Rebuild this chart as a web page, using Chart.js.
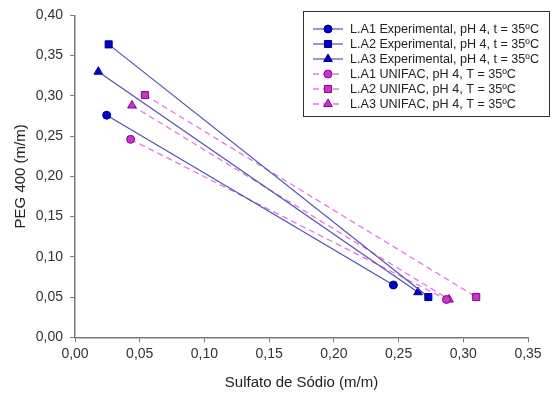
<!DOCTYPE html>
<html>
<head>
<meta charset="utf-8">
<script src="https://cdn.jsdelivr.net/npm/chart.js@4/dist/chart.umd.min.js"></script>
<style>
  body { margin: 0; background: #fff; }
</style>
</head>
<body>
<canvas id="myChart" width="552" height="396"></canvas>
<script>
'use strict';

// data

var seriesLabels = [
  'L.A1 Experimental, pH 4, t = 35ºC',
  'L.A2 Experimental, pH 4, t = 35ºC',
  'L.A3 Experimental, pH 4, t = 35ºC',
  'L.A1 UNIFAC, pH 4, T = 35ºC',
  'L.A2 UNIFAC, pH 4, T = 35ºC',
  'L.A3 UNIFAC, pH 4, T = 35ºC'
];

var la1ExpX = [0.0245, 0.246];
var la1ExpY = [0.276, 0.065];
var la2ExpX = [0.026, 0.273];
var la2ExpY = [0.364, 0.050];
var la3ExpX = [0.018, 0.265];
var la3ExpY = [0.330, 0.056];

var la1UniX = [0.043, 0.287];
var la1UniY = [0.246, 0.047];
var la2UniX = [0.054, 0.310];
var la2UniY = [0.301, 0.050];
var la3UniX = [0.044, 0.289];
var la3UniY = [0.288, 0.047];

var xTicks = [0, 0.05, 0.10, 0.15, 0.20, 0.25, 0.30, 0.35];
var yTicks = [0, 0.05, 0.10, 0.15, 0.20, 0.25, 0.30, 0.35, 0.40];

var fontName = '"Liberation Sans", Arial, sans-serif';
var axisGray = '#7a7a7a';

function toPoints(xs, ys) {
  var pts = [];
  for (var i = 0; i < xs.length; i++) {
    pts.push({ x: xs[i], y: ys[i] });
  }
  return pts;
}

function commaLabel(value) {
  return Number(value).toFixed(2).replace('.', ',');
}

function expSet(label, xs, ys, shape, radius) {
  return {
    label: label,
    data: toPoints(xs, ys),
    showLine: true,
    borderColor: '#5050b0',
    borderWidth: 1.2,
    pointStyle: shape,
    pointRadius: radius,
    pointBackgroundColor: '#0000cc',
    pointBorderColor: '#00008a',
    pointBorderWidth: 1,
    order: 1
  };
}

function unifacSet(label, xs, ys, shape, radius) {
  return {
    label: label,
    data: toPoints(xs, ys),
    showLine: true,
    borderColor: '#e07ae0',
    borderWidth: 1.3,
    borderDash: [6, 4],
    pointStyle: shape,
    pointRadius: radius,
    pointBackgroundColor: '#cc33cc',
    pointBorderColor: '#8a008a',
    pointBorderWidth: 1,
    order: 2
  };
}

// legend in a framed box, drawn by hand

var boxLegend = {
  id: 'boxLegend',
  afterDraw: function(chart) {
    var ctx = chart.ctx;
    var sets = chart.data.datasets;
    ctx.save();
    ctx.fillStyle = '#fff';
    ctx.fillRect(303.5, 11.5, 246, 105);
    ctx.strokeStyle = '#333';
    ctx.lineWidth = 1;
    ctx.strokeRect(303.5, 11.5, 246, 105);
    for (var i = 0; i < sets.length; i++) {
      var ds = sets[i];
      var y = 29 + i * 15;
      ctx.strokeStyle = ds.borderColor;
      ctx.lineWidth = ds.borderWidth;
      ctx.setLineDash(ds.borderDash || []);
      ctx.beginPath();
      ctx.moveTo(313, y);
      ctx.lineTo(343, y);
      ctx.stroke();
      ctx.setLineDash([]);
      ctx.fillStyle = ds.pointBackgroundColor;
      ctx.strokeStyle = ds.pointBorderColor;
      ctx.lineWidth = 1;
      Chart.helpers.drawPoint(ctx, { pointStyle: ds.pointStyle, radius: ds.pointRadius, borderWidth: 1 }, 328, y);
      ctx.fillStyle = '#222';
      ctx.font = '12.6px ' + fontName;
      ctx.textBaseline = 'middle';
      ctx.textAlign = 'left';
      ctx.fillText(ds.label, 350, y + 0.5);
    }
    ctx.restore();
  }
};

var ctx = document.getElementById('myChart').getContext('2d');

var chart = new Chart(ctx, {
  type: 'scatter',
  data: {
    datasets: [
      expSet(seriesLabels[0], la1ExpX, la1ExpY, 'circle', 4),
      expSet(seriesLabels[1], la2ExpX, la2ExpY, 'rect', 5),
      expSet(seriesLabels[2], la3ExpX, la3ExpY, 'triangle', 5),
      unifacSet(seriesLabels[3], la1UniX, la1UniY, 'circle', 4),
      unifacSet(seriesLabels[4], la2UniX, la2UniY, 'rect', 5),
      unifacSet(seriesLabels[5], la3UniX, la3UniY, 'triangle', 5)
    ]
  },
  options: {
    responsive: false,
    animation: false,
    layout: { padding: { top: 11, right: 24, left: 0, bottom: 0 } },
    plugins: {
      legend: { display: false },
      tooltip: { enabled: false }
    },
    scales: {
      x: {
        type: 'linear',
        min: 0,
        max: 0.35,
        afterBuildTicks: function(scale) {
          scale.ticks = xTicks.map(function(v) { return { value: v }; });
        },
        afterFit: function(scale) {
          scale.height = 58.7;
        },
        grid: { drawOnChartArea: false, color: axisGray, tickLength: 5 },
        border: { color: axisGray, width: 1.5 },
        ticks: {
          color: '#333',
          font: { family: fontName, size: 14 },
          padding: 3,
          maxRotation: 0,
          callback: commaLabel
        },
        title: {
          display: true,
          text: 'Sulfato de Sódio (m/m)',
          color: '#222',
          font: { family: fontName, size: 15 },
          padding: { top: 4, bottom: 4 }
        }
      },
      y: {
        type: 'linear',
        min: 0,
        max: 0.40,
        afterBuildTicks: function(scale) {
          scale.ticks = yTicks.map(function(v) { return { value: v }; });
        },
        afterFit: function(scale) {
          scale.width = 75;
        },
        grid: { drawOnChartArea: false, color: axisGray, tickLength: 5 },
        border: { color: axisGray, width: 1.5 },
        ticks: {
          color: '#333',
          font: { family: fontName, size: 14 },
          padding: 7,
          callback: commaLabel
        },
        title: {
          display: true,
          text: 'PEG 400 (m/m)',
          color: '#222',
          font: { family: fontName, size: 15 },
          padding: { top: 12, bottom: 4 }
        }
      }
    }
  },
  plugins: [boxLegend]
});
</script>
</body>
</html>
